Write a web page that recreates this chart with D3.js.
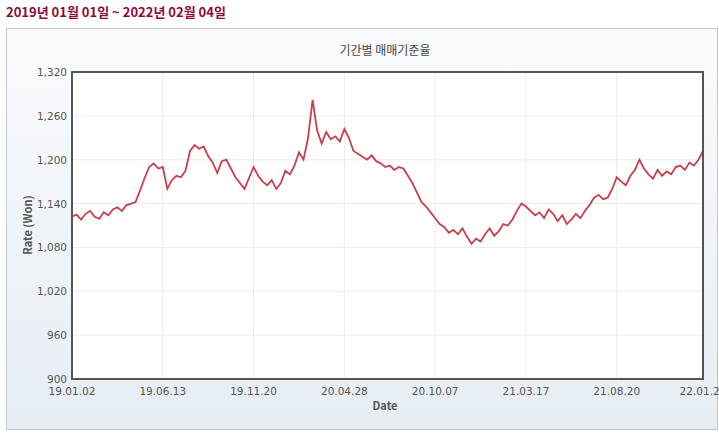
<!DOCTYPE html>
<html><head><meta charset="utf-8">
<script src="https://cdn.jsdelivr.net/npm/d3@7"></script>
<style>body{margin:0;background:#fff;font-family:"Noto Sans CJK KR","DejaVu Sans",sans-serif;}</style>
</head><body>
<svg id="c" width="719" height="435"></svg>
<script>
// roughly weekly samples
const rates = [
  1122,1125,1118,1126,1130,1122,1119,1128,1124,1132,1135,1130,1138,1140,1142,1158,1175,1190,1195,1188,
  1190,1160,1172,1178,1176,1185,1212,1220,1215,1218,1205,1196,1182,1198,1200,1188,1176,1168,1160,1175,
  1190,1178,1170,1165,1172,1160,1168,1185,1180,1192,1210,1200,1230,1282,1240,1222,1238,1228,1232,1225,
  1242,1230,1212,1208,1204,1200,1206,1198,1195,1190,1192,1186,1190,1188,1178,1168,1155,1142,1136,1128,
  1120,1112,1108,1100,1104,1098,1106,1095,1085,1092,1088,1098,1106,1096,1102,1112,1110,1118,1130,1140,
  1136,1130,1124,1128,1120,1132,1126,1116,1124,1112,1118,1126,1120,1130,1138,1148,1152,1146,1148,1160,
  1176,1170,1165,1178,1186,1200,1188,1180,1174,1186,1178,1184,1180,1190,1192,1186,1196,1192,1200,1212
];
const tickIdx = [0, 20, 40, 60, 80, 100, 120, 139];
const tickLabels = ["19.01.02", "19.06.13", "19.11.20", "20.04.28", "20.10.07", "21.03.17", "21.08.20", "22.01.28"];
const yTicks = [900, 960, 1020, 1080, 1140, 1200, 1260, 1320];

const svg = d3.select("#c");
const pL = 72, pR = 703, pT = 72, pB = 379;

svg.append("text").attr("x", 6).attr("y", 17).attr("fill", "#8b0a3c")
  .attr("font-size", 13).attr("font-weight", "bold")
  .text("2019년 01월 01일  ~  2022년 02월 04일");

const grad = svg.append("defs").append("linearGradient").attr("id", "bg")
  .attr("x1", 0).attr("y1", 0).attr("x2", 0).attr("y2", 1);
grad.append("stop").attr("offset", "0%").attr("stop-color", "#fafbfd");
grad.append("stop").attr("offset", "100%").attr("stop-color", "#e6edf3");

svg.append("rect").attr("x", 6.5).attr("y", 28.5).attr("width", 711).attr("height", 401)
  .attr("fill", "url(#bg)").attr("stroke", "#c8c8c8");

svg.append("text").attr("x", 385).attr("y", 55).attr("text-anchor", "middle")
  .attr("font-size", 12).attr("fill", "#444").text("기간별 매매기준율");

const x = d3.scaleLinear().domain([0, rates.length - 1]).range([pL, pR]);
const y = d3.scaleLinear().domain([900, 1320]).range([pB, pT]);

svg.append("rect").attr("x", pL).attr("y", pT).attr("width", pR - pL).attr("height", pB - pT).attr("fill", "#fff");

svg.append("g").selectAll("line").data(yTicks).enter().append("line")
  .attr("x1", pL).attr("x2", pR).attr("y1", d => y(d)).attr("y2", d => y(d))
  .attr("stroke", "#ebebeb");
svg.append("g").selectAll("line").data(tickIdx).enter().append("line")
  .attr("x1", d => x(d)).attr("x2", d => x(d)).attr("y1", pT).attr("y2", pB)
  .attr("stroke", "#ebebeb");

svg.append("g").selectAll("text").data(yTicks).enter().append("text")
  .attr("x", pL - 5).attr("y", d => y(d) + 4).attr("text-anchor", "end")
  .attr("font-size", 10.5).attr("fill", "#555").attr("font-family", "DejaVu Sans")
  .text(d => d3.format(",")(d));

svg.append("g").selectAll("text").data(tickIdx).enter().append("text")
  .attr("x", d => x(d)).attr("y", pB + 16).attr("text-anchor", "middle")
  .attr("font-size", 10.5).attr("fill", "#555").attr("font-family", "DejaVu Sans")
  .text((d, i) => tickLabels[i]);

const line = d3.line().x((d, i) => x(i)).y(d => y(d));
svg.append("path").datum(rates).attr("d", line).attr("fill", "none")
  .attr("stroke", "#c8404e").attr("stroke-width", 1.8);

svg.append("rect").attr("x", pL).attr("y", pT).attr("width", pR - pL).attr("height", pB - pT)
  .attr("fill", "none").attr("stroke", "#555").attr("stroke-width", 2);

svg.append("text").attr("x", 385).attr("y", 410).attr("text-anchor", "middle")
  .attr("font-size", 11).attr("font-weight", "bold").attr("fill", "#555").text("Date");
svg.append("text").attr("transform", "translate(32,225) rotate(-90)").attr("text-anchor", "middle")
  .attr("font-size", 11).attr("font-weight", "bold").attr("fill", "#555").text("Rate (Won)");
</script>
</body></html>
